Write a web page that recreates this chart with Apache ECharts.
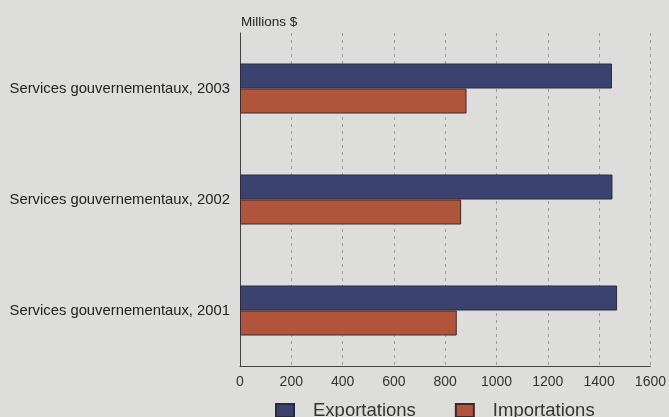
<!DOCTYPE html>
<html><head><meta charset="utf-8">
<script src="https://cdn.jsdelivr.net/npm/echarts@6/dist/echarts.min.js"></script>
<style>html,body{margin:0;padding:0;background:#dddddb;}#c{width:669px;height:417px;}</style>
</head><body><div id="c"></div>
<script>
const categories = ["Services gouvernementaux, 2001", "Services gouvernementaux, 2002", "Services gouvernementaux, 2003"];
const exportations = [1470, 1452, 1450];
const importations = [845, 862, 883];
const seriesNames = ["Exportations", "Importations"];
const xTicks = [0, 200, 400, 600, 800, 1000, 1200, 1400, 1600];

const chart = echarts.init(document.getElementById('c'));
chart.setOption({
  backgroundColor: '#dddddb',
  animation: false,
  textStyle: { fontFamily: 'Liberation Sans, Arial, sans-serif' },
  grid: { left: 240, right: 18, top: 33, bottom: 51 },
  title: { text: 'Millions $', left: 236, top: 10, textStyle: { fontSize: 13.5, fontWeight: 'normal', color: '#222' } },
  legend: {
    data: seriesNames, top: 396, left: 270, itemWidth: 18, itemHeight: 13, itemGap: 39, icon: 'rect',
    textStyle: { fontSize: 18.5, color: '#333', padding: [0, 0, 0, 14] }
  },
  xAxis: {
    type: 'value', min: xTicks[0], max: xTicks[xTicks.length - 1], interval: 200,
    axisLine: { show: true, lineStyle: { color: '#444', width: 1 } },
    axisTick: { show: false },
    axisLabel: { fontSize: 14, color: '#333', margin: 9, formatter: v => String(v) },
    splitLine: { show: true, lineStyle: { color: '#9a9a9a', type: [3, 4], width: 1 } }
  },
  yAxis: {
    type: 'category', data: categories,
    axisLine: { show: true, lineStyle: { color: '#444', width: 1 } },
    axisTick: { show: false },
    axisLabel: { fontSize: 14.8, color: '#222', margin: 10 }
  },
  series: [
    { name: seriesNames[0], type: 'bar', data: exportations, barWidth: 25, barGap: '0%',
      itemStyle: { color: '#3c4270', borderColor: '#2a2a3a', borderWidth: 1 } },
    { name: seriesNames[1], type: 'bar', data: importations, barWidth: 25, barGap: '0%',
      itemStyle: { color: '#b0553c', borderColor: '#3a2a2a', borderWidth: 1 } }
  ]
});
</script></body></html>
